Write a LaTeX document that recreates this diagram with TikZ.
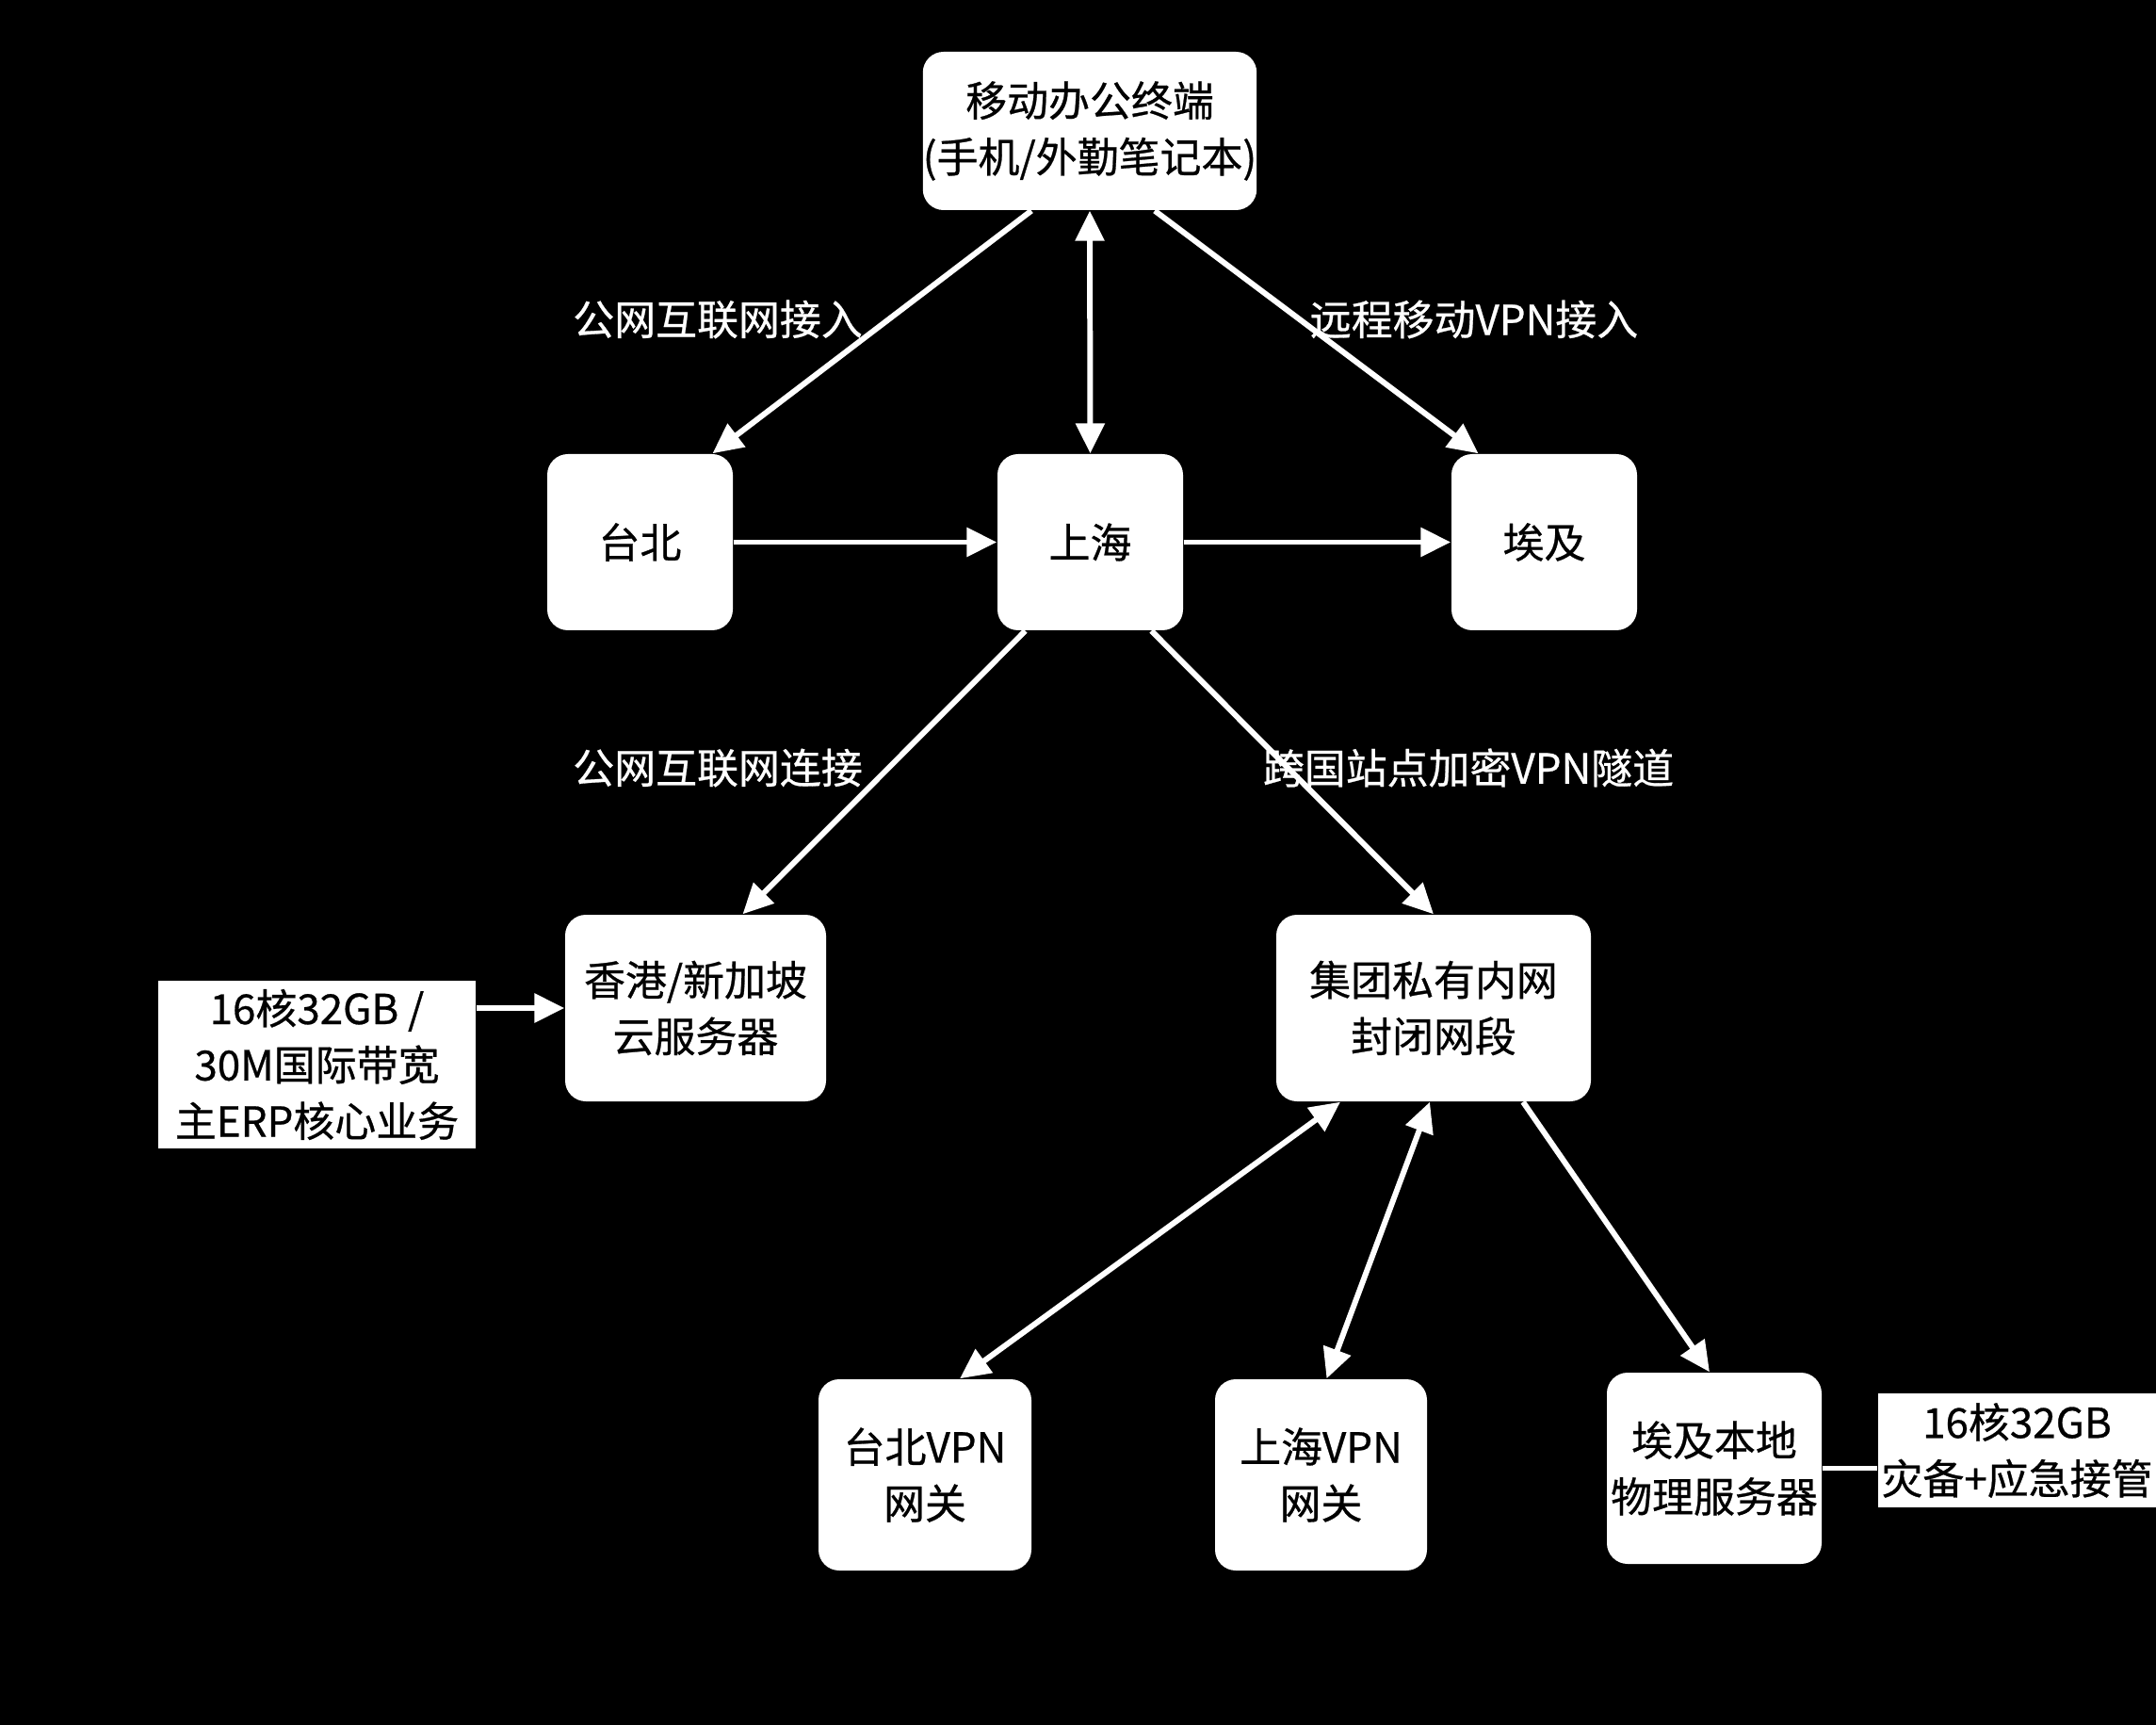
\documentclass[tikz,border=0pt]{standalone}
\usepackage{fontspec}
\setmainfont{Noto Sans CJK SC}[FakeBold=0.6]
\usepackage{tikz}
\usetikzlibrary{arrows.meta}

\begin{document}
\begin{tikzpicture}[
    sitebox/.style={rectangle, fill=white, rounded corners=0.22cm, text=black,
                 font=\fontsize{12.5}{17}\selectfont, align=center, inner sep=0pt},
    specbox/.style={rectangle, fill=white, text=black,
                 font=\fontsize{12.5}{17}\selectfont, align=center, inner sep=0pt},
    lbl/.style={text=white, font=\fontsize{12.5}{17}\selectfont, inner sep=0pt},
    arr/.style={-{Triangle[length=0.32cm, width=0.3cm]}, white, line width=1.7pt},
    biarr/.style={{Triangle[length=0.32cm, width=0.3cm]}-{Triangle[length=0.32cm, width=0.3cm]}, white, line width=1.7pt},
]
    \fill[black] (0,0) rectangle (22.89,-18.31);
    \useasboundingbox (0,0) rectangle (22.89,-18.31);

    \node[sitebox, minimum width=3.22cm, minimum height=1.68cm] (mobile) at (11.57,-1.39) {移动办公终端\\(手机/外勤笔记本)};
    \node[sitebox, minimum width=1.97cm, minimum height=1.87cm] (taipei) at (6.795,-5.755) {台北};
    \node[sitebox, minimum width=1.97cm, minimum height=1.87cm] (shanghai) at (11.575,-5.755) {上海};
    \node[sitebox, minimum width=1.97cm, minimum height=1.87cm] (egypt) at (16.395,-5.755) {埃及};
    \node[sitebox, minimum width=2.77cm, minimum height=1.98cm] (cloud) at (7.385,-10.70) {香港/新加坡\\云服务器};
    \node[sitebox, minimum width=3.34cm, minimum height=1.98cm] (intranet) at (15.22,-10.70) {集团私有内网\\封闭网段};
    \node[specbox, minimum width=3.37cm, minimum height=1.78cm] (cloudspec) at (3.365,-11.30) {16核32GB /\\30M国际带宽\\主ERP核心业务};
    \node[sitebox, minimum width=2.26cm, minimum height=2.03cm] (tpgw) at (9.82,-15.655) {台北VPN\\网关};
    \node[sitebox, minimum width=2.25cm, minimum height=2.03cm] (shgw) at (14.025,-15.655) {上海VPN\\网关};
    \node[sitebox, minimum width=2.28cm, minimum height=2.03cm] (egsrv) at (18.20,-15.585) {埃及本地\\物理服务器};
    \node[specbox, minimum width=2.95cm, minimum height=1.21cm] (egspec) at (21.415,-15.395) {16核32GB\\灾备+应急接管};

    \node[lbl] (l1) at (7.62,-3.39) {公网互联网接入};
    \node[lbl] (l2) at (15.65,-3.39) {远程移动VPN接入};
    \node[lbl] (l3) at (7.62,-8.15) {公网互联网连接};
    \node[lbl] (l4) at (15.59,-8.15) {跨国站点加密VPN隧道};

    \draw[arr] ([xshift=-0.62cm]mobile.south) -- ([xshift=0.77cm]taipei.north);
    \draw[biarr] (mobile.south) -- (shanghai.north);
    \draw[arr] ([xshift=0.69cm]mobile.south) -- ([xshift=-0.70cm]egypt.north);
    \draw[arr] (taipei.east) -- (shanghai.west);
    \draw[arr] (shanghai.east) -- (egypt.west);
    \draw[arr] ([xshift=-0.69cm]shanghai.south) -- ([xshift=0.5cm]cloud.north);
    \draw[arr] ([xshift=0.65cm]shanghai.south) -- (intranet.north);
    \draw[arr] (cloudspec.east |- cloud) -- (cloud.west);
    \draw[biarr] ([xshift=-0.99cm]intranet.south) -- ([xshift=0.37cm]tpgw.north);
    \draw[biarr] ([xshift=-0.04cm]intranet.south) -- ([xshift=0.06cm]shgw.north);
    \draw[arr] ([xshift=0.95cm]intranet.south) -- ([xshift=-0.05cm]egsrv.north);
    \draw[white, line width=1.7pt] (egsrv.east) -- (egspec.west |- egsrv);
\end{tikzpicture}
\end{document}
